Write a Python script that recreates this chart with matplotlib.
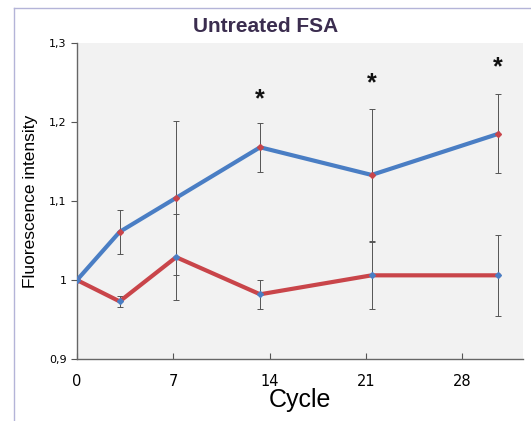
import matplotlib.pyplot as plt
from matplotlib.lines import Line2D
from matplotlib.ticker import FuncFormatter

# data
cycles = [0, 3.1, 7.2, 13.3, 21.4, 30.6]
treated = [1.0, 1.061, 1.104, 1.168, 1.133, 1.185]
treated_err = [0.0, 0.028, 0.097, 0.031, 0.083, 0.050]
control = [1.0, 0.973, 1.029, 0.982, 1.006, 1.006]
control_err = [0.0, 0.007, 0.054, 0.018, 0.042, 0.051]
star_x = [13.3, 21.4, 30.6]
star_y = [1.229, 1.249, 1.269]

fig = plt.figure(figsize=(5.31, 4.21), dpi=100)
ax = fig.add_axes([0.145, 0.147, 0.84, 0.751])
ax.set_facecolor('#f2f2f2')

blue = '#4a7ec4'
red = '#c9454a'

ax.errorbar(cycles, treated, yerr=treated_err, fmt='none', ecolor='#555555',
            elinewidth=0.7, capsize=2, capthick=0.7, zorder=2)
ax.errorbar(cycles, control, yerr=control_err, fmt='none', ecolor='#555555',
            elinewidth=0.7, capsize=2, capthick=0.7, zorder=2)
ax.plot(cycles, treated, color=blue, lw=3, zorder=3)
ax.plot(cycles, control, color=red, lw=3, zorder=3)
ax.plot(cycles, treated, ls='none', marker='D', ms=3, color=red, zorder=4)
ax.plot(cycles, control, ls='none', marker='D', ms=3, color=blue, zorder=4)

for x, y in zip(star_x, star_y):
    ax.text(x, y, '*', ha='center', va='center', fontsize=18,
            fontweight='bold', family='Liberation Sans', color='#111111')

ax.set_xlim(0, 32.4)
ax.set_ylim(0.9, 1.3)
ax.set_xticks([0, 7, 14, 21, 28])
ax.set_yticks([0.9, 1.0, 1.1, 1.2, 1.3])
ax.yaxis.set_major_formatter(FuncFormatter(
    lambda v, p: ('%g' % round(v, 2)).replace('.', ',')))
ax.tick_params(axis='x', direction='in', length=4, labelsize=10.5, pad=11, color='#555555')
ax.tick_params(axis='y', direction='out', length=4, labelsize=8, color='#555555')

for side in ['top', 'right']:
    ax.spines[side].set_visible(False)
for side in ['left', 'bottom']:
    ax.spines[side].set_color('#666666')
    ax.spines[side].set_linewidth(1.0)

ax.set_xlabel('Cycle', fontsize=18, family='Liberation Sans', labelpad=-1)
ax.set_ylabel('Fluorescence intensity', fontsize=12.5, family='Liberation Sans', labelpad=8)
fig.text(0.5, 0.938, 'Untreated FSA', ha='center', va='center', fontsize=15,
         fontweight='bold', family='Liberation Sans', color='#3b2d4f')

# outer frame lines
fig.add_artist(Line2D([14 / 531, 1], [1 - 8 / 421, 1 - 8 / 421],
                      transform=fig.transFigure, color='#b4b4d8', lw=1))
fig.add_artist(Line2D([14 / 531, 14 / 531], [0, 1 - 8 / 421],
                      transform=fig.transFigure, color='#b4b4d8', lw=1))

fig.savefig('out.png', dpi=100)
